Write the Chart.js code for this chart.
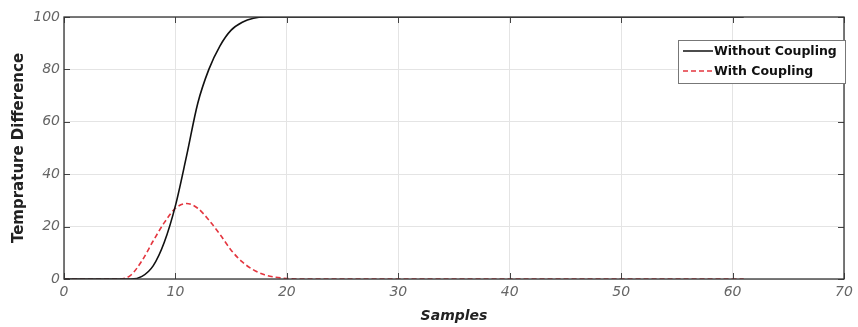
<!DOCTYPE html>
<html>
<head>
<meta charset="utf-8">
<script src="https://cdn.jsdelivr.net/npm/chart.js@4"></script>
<style>
  html, body { margin: 0; padding: 0; background: #fff; }
  #wrap { width: 858px; height: 327px; }
</style>
</head>
<body>
<div id="wrap"><canvas id="tempChart" width="858" height="327"></canvas></div>
<script>
// sample index 0..61
const samples = [];
for (let i = 0; i <= 61; i++) samples.push(i);

const withoutCoupling = [
	0, 0, 0, 0, 0, 0, 0, 1, 5, 14,
	28, 47, 67, 80, 89, 95, 98, 99.5, 100, 100,
	100, 100, 100, 100, 100, 100, 100, 100, 100, 100,
	100, 100, 100, 100, 100, 100, 100, 100, 100, 100,
	100, 100, 100, 100, 100, 100, 100, 100, 100, 100,
	100, 100, 100, 100, 100, 100, 100, 100, 100, 100,
	100, 100
];

const withCoupling = [
	0, 0, 0, 0, 0, 0, 1.5, 7, 14.5, 21.5,
	27, 28.8, 27, 22.5, 17, 11, 6.5, 3.5, 1.6, 0.7,
	0.2, 0, 0, 0, 0, 0, 0, 0, 0, 0,
	0, 0, 0, 0, 0, 0, 0, 0, 0, 0,
	0, 0, 0, 0, 0, 0, 0, 0, 0, 0,
	0, 0, 0, 0, 0, 0, 0, 0, 0, 0,
	0, 0
];

const seriesNames = ["Without Coupling", "With Coupling"];
const xTicks = [0, 10, 20, 30, 40, 50, 60, 70];
const yTicks = [0, 20, 40, 60, 80, 100];

const FONT = "'DejaVu Sans', sans-serif";

let toPoints = function (vals) {
	return samples.map((s, i) => ({ x: s, y: vals[i] }));
};

// MATLAB style frame, inward ticks and legend box
let matlabFrame = {
	id: "matlabFrame",
	afterDatasetsDraw(chart) {
		const ctx = chart.ctx;
		const a = chart.chartArea;
		const xs = chart.scales.x, ys = chart.scales.y;
		ctx.save();
		ctx.strokeStyle = "#444";
		ctx.lineWidth = 1;
		ctx.beginPath();
		xTicks.forEach(v => {
			const px = Math.round(xs.getPixelForValue(v)) + 0.5;
			ctx.moveTo(px, a.bottom); ctx.lineTo(px, a.bottom - 6);
			ctx.moveTo(px, a.top); ctx.lineTo(px, a.top + 6);
		});
		yTicks.forEach(v => {
			const py = Math.round(ys.getPixelForValue(v)) + 0.5;
			ctx.moveTo(a.left, py); ctx.lineTo(a.left + 6, py);
			ctx.moveTo(a.right, py); ctx.lineTo(a.right - 6, py);
		});
		ctx.stroke();
		ctx.strokeStyle = "#333";
		ctx.lineWidth = 1.3;
		ctx.strokeRect(a.left, a.top, a.right - a.left, a.bottom - a.top);

		// legend
		const lx = 678, ly = 40, lw = 167, lh = 43;
		ctx.fillStyle = "#fff";
		ctx.fillRect(lx, ly, lw, lh);
		ctx.strokeStyle = "#777";
		ctx.lineWidth = 1;
		ctx.strokeRect(lx + 0.5, ly + 0.5, lw, lh);
		ctx.font = "bold 12.5px " + FONT;
		ctx.textBaseline = "middle";
		chart.data.datasets.forEach((ds, i) => {
			const y = ly + 11 + i * 20;
			ctx.strokeStyle = ds.borderColor;
			ctx.lineWidth = 1.5;
			ctx.setLineDash(ds.borderDash || []);
			ctx.beginPath();
			ctx.moveTo(lx + 5, y); ctx.lineTo(lx + 35, y);
			ctx.stroke();
			ctx.setLineDash([]);
			ctx.fillStyle = "#111";
			ctx.fillText(ds.label, lx + 36, y + 0.5);
		});
		ctx.restore();
	}
};

let chart = new Chart("tempChart", {
	type: "line",
	data: {
		datasets: [{
			label: seriesNames[0],
			data: toPoints(withoutCoupling),
			borderColor: "#111",
			borderWidth: 1.6,
			pointRadius: 0,
			cubicInterpolationMode: "monotone",
			fill: false
		}, {
			label: seriesNames[1],
			data: toPoints(withCoupling),
			borderColor: "#e4363f",
			borderWidth: 1.6,
			borderDash: [5, 3],
			pointRadius: 0,
			cubicInterpolationMode: "monotone",
			fill: false
		}]
	},
	options: {
		responsive: false,
		animation: false,
		events: [],
		layout: { padding: { top: 17, right: 14, left: 0, bottom: 0 } },
		plugins: {
			legend: { display: false },
			tooltip: { enabled: false }
		},
		scales: {
			x: {
				type: "linear",
				min: 0, max: 70,
				afterBuildTicks: s => { s.ticks = xTicks.map(v => ({ value: v })); },
				afterFit: s => { s.height = 48; },
				grid: { color: "#e4e4e4", drawTicks: false },
				border: { display: false },
				ticks: {
					padding: 5,
					color: "#666",
					font: { family: FONT, size: 14, style: "italic" },
					maxRotation: 0
				},
				title: {
					display: true,
					text: "Samples",
					color: "#222",
					padding: { top: 2, bottom: 2 },
					font: { family: FONT, size: 14, style: "italic", weight: "bold" }
				}
			},
			y: {
				min: 0, max: 100,
				afterBuildTicks: s => { s.ticks = yTicks.map(v => ({ value: v })); },
				afterFit: s => { s.width = 64; },
				grid: { color: "#e4e4e4", drawTicks: false },
				border: { display: false },
				ticks: {
					padding: 4,
					color: "#666",
					font: { family: FONT, size: 14, style: "italic" }
				},
				title: {
					display: true,
					text: "Temprature Difference",
					color: "#222",
					padding: { top: 10, bottom: 0 },
					font: { family: FONT, size: 15, weight: "bold" }
				}
			}
		}
	},
	plugins: [matlabFrame]
});
</script>
</body>
</html>
